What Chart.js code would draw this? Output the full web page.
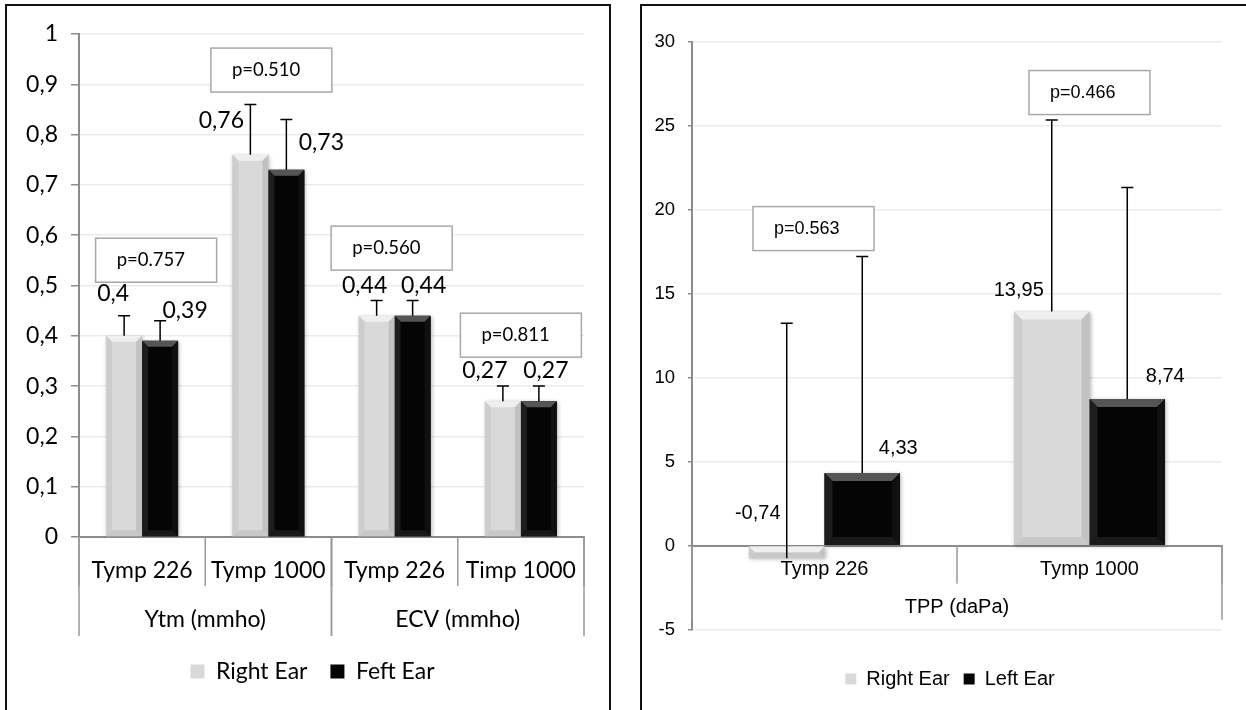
<!DOCTYPE html>
<html>
<head>
<meta charset="utf-8">
<script src="https://cdn.jsdelivr.net/npm/chart.js@4.4.1/dist/chart.umd.min.js"></script>
<style>
  html, body { margin: 0; padding: 0; background: #fff; width: 1246px; height: 710px; overflow: hidden; }
  .panel { position: absolute; top: 4px; border: 2px solid #111; background: #fff; }
  #leftPanel { left: 5px; width: 602px; height: 708px; }
  #rightPanel { left: 640px; width: 606px; height: 708px; }
  canvas { display: block; }
</style>
</head>
<body>
<div class="panel" id="leftPanel"><canvas id="leftChart" width="602" height="708"></canvas></div>
<div class="panel" id="rightPanel"><canvas id="rightChart" width="606" height="708"></canvas></div>
<script>
// Left panel: Ytm and ECV (mmho), right vs left ear
const leftCategories = ['Tymp 226', 'Tymp 1000', 'Tymp 226', 'Timp 1000'];
const leftGroups = ['Ytm (mmho)', 'ECV (mmho)'];
const leftGroupSizes = [2, 2];
const leftRightEar = [0.40, 0.76, 0.44, 0.27];
const leftLeftEar = [0.39, 0.73, 0.44, 0.27];
const leftRightSd = [0.04, 0.10, 0.03, 0.03];
const leftLeftSd = [0.04, 0.10, 0.03, 0.03];
const leftPValues = ['p=0.757', 'p=0.510', 'p=0.560', 'p=0.811'];
const leftLegend = ['Right Ear', 'Feft Ear'];

// Right panel: TPP (daPa)
const rightCategories = ['Tymp 226', 'Tymp 1000'];
const rightGroups = ['TPP (daPa)'];
const rightGroupSizes = [2];
const rightRightEar = [-0.74, 13.95];
const rightLeftEar = [4.33, 8.74];
const rightRightSd = [14.0, 11.4];
const rightLeftSd = [12.9, 12.6];
const rightPValues = ['p=0.563', 'p=0.466'];
const rightLegend = ['Right Ear', 'Left Ear'];

// hand-placed value label nudges (px from the bar end), [right ear][], [left ear][]
const leftLabelNudge = [
  [[-11, -42], [-29, -34], [-12, -30], [-18, -31]],
  [[25, -30], [35, -27], [11, -30], [7, -31]]
];
const rightLabelNudge = [
  [[-29, -45], [-33, -21]],
  [[36, -25], [38, -23]]
];
// p-value boxes: top edge in axis units + shift (px) from the category centre
const leftBoxTop = [0.594, 0.972, 0.618, 0.445];
const leftBoxShift = [14, 3, -3, 0];
const rightBoxTop = [20.2, 28.3];
const rightBoxShift = [-11, 0];

const LATO = 'Lato, "Open Sans", sans-serif';
const ARIAL = '"Liberation Sans", Arial, sans-serif';

const fmt = v => String(Math.round(v * 100) / 100).replace('.', ',');

const grayShades = { top: '#efefef', left: '#cdcdcd', right: '#c2c2c2', bottom: '#c8c8c8' };
const blackShades = { top: '#555555', left: '#1d1d1d', right: '#101010', bottom: '#1a1a1a' };

// Excel-style bevel drawn over each bar the library placed
function bevel(ctx, bar, shades, size) {
  const { x, y, base, width } = bar.getProps(['x', 'y', 'base', 'width'], true);
  const l = x - width / 2, r = x + width / 2;
  const t = Math.min(y, base), b = Math.max(y, base);
  const s = Math.min(size, (b - t) / 2, width / 2);
  const poly = (pts, c) => {
    ctx.fillStyle = c;
    ctx.beginPath();
    pts.forEach((p, k) => k ? ctx.lineTo(p[0], p[1]) : ctx.moveTo(p[0], p[1]));
    ctx.closePath();
    ctx.fill();
  };
  poly([[l, t], [r, t], [r - s, t + s], [l + s, t + s]], shades.top);
  poly([[l, b], [r, b], [r - s, b - s], [l + s, b - s]], shades.bottom);
  poly([[l, t], [l + s, t + s], [l + s, b - s], [l, b]], shades.left);
  poly([[r, t], [r - s, t + s], [r - s, b - s], [r, b]], shades.right);
}

function buildChart(id, s) {
  const decor = {
    id: 'decor',
    afterLayout(chart) {
      // legend sits a little right of the canvas centre in the original
      chart.legend.left += s.legendShift;
      chart.legend.right += s.legendShift;
    },
    beforeDatasetsDraw(chart) {
      const ctx = chart.ctx;
      ctx.save();
      ctx.shadowColor = 'rgba(0,0,0,0.3)';
      ctx.shadowBlur = 4;
      ctx.shadowOffsetX = 1;
      ctx.shadowOffsetY = 1;
    },
    afterDatasetsDraw(chart) {
      const ctx = chart.ctx, xs = chart.scales.x, ys = chart.scales.y;
      ctx.restore();
      ctx.save();
      chart.data.datasets.forEach((ds, d) => {
        chart.getDatasetMeta(d).data.forEach(bar => bevel(ctx, bar, d === 0 ? grayShades : blackShades, s.bevel));
      });
      // error bars (upper only) and value labels
      chart.data.datasets.forEach((ds, d) => {
        chart.getDatasetMeta(d).data.forEach((bar, i) => {
          const v = ds.data[i];
          const y0 = ys.getPixelForValue(v);
          const y1 = ys.getPixelForValue(v + s.sd[d][i]);
          ctx.strokeStyle = '#000';
          ctx.lineWidth = 1.5;
          ctx.beginPath();
          ctx.moveTo(bar.x, y0); ctx.lineTo(bar.x, y1);
          ctx.moveTo(bar.x - s.cap, y1); ctx.lineTo(bar.x + s.cap, y1);
          ctx.stroke();
          ctx.fillStyle = '#000';
          ctx.font = s.labelFont;
          ctx.textAlign = 'center';
          ctx.textBaseline = 'middle';
          const [dx, dy] = s.nudge[d][i];
          ctx.fillText(fmt(v), bar.x + dx, y0 + dy);
        });
      });
      // p-value boxes
      s.pValues.forEach((p, i) => {
        const left = xs.getPixelForValue(i) + s.boxShift[i] - s.boxW / 2;
        const top = ys.getPixelForValue(s.boxTop[i]);
        ctx.fillStyle = '#fff';
        ctx.fillRect(left, top, s.boxW, s.boxH);
        ctx.strokeStyle = '#a8a8a8';
        ctx.lineWidth = 1.5;
        ctx.strokeRect(left, top, s.boxW, s.boxH);
        ctx.fillStyle = '#000';
        ctx.font = s.boxFont;
        ctx.textAlign = 'left';
        ctx.textBaseline = 'middle';
        ctx.fillText(p, left + 21, top + s.boxH / 2);
      });
      ctx.restore();
    },
    afterDraw(chart) {
      // multi-level category axis: dividers + group labels
      const ctx = chart.ctx, xs = chart.scales.x, ys = chart.scales.y;
      const axisY = ys.getPixelForValue(0);
      const step = xs.getPixelForValue(1) - xs.getPixelForValue(0);
      const edge = i => xs.getPixelForValue(i) - step / 2;
      const vline = (x, len) => { ctx.beginPath(); ctx.moveTo(x, axisY); ctx.lineTo(x, axisY + len); ctx.stroke(); };
      ctx.save();
      ctx.strokeStyle = '#999';
      ctx.lineWidth = 1.5;
      for (let i = 0; i <= s.categories.length; i++) vline(edge(i), s.catDrop);
      ctx.fillStyle = '#000';
      ctx.font = s.groupFont;
      ctx.textAlign = 'center';
      ctx.textBaseline = 'middle';
      let start = 0;
      s.groups.forEach((g, k) => {
        const end = start + s.groupSizes[k];
        vline(edge(start), s.groupDrop);
        vline(edge(end), s.groupDrop);
        ctx.fillText(g, (edge(start) + edge(end)) / 2, axisY + s.groupY);
        start = end;
      });
      ctx.restore();
    }
  };

  return new Chart(document.getElementById(id), {
    type: 'bar',
    data: {
      labels: s.categories,
      datasets: [
        { label: s.legend[0], data: s.rightEar, backgroundColor: '#d9d9d9', borderWidth: 0 },
        { label: s.legend[1], data: s.leftEar, backgroundColor: '#050505', borderWidth: 0 }
      ]
    },
    options: {
      responsive: false,
      animation: false,
      datasets: { bar: { categoryPercentage: s.catPct, barPercentage: 1 } },
      layout: { padding: s.padding },
      scales: {
        x: {
          position: s.xPosition,
          grid: { display: false, drawTicks: false },
          border: { display: true, color: '#8c8c8c', width: 2 },
          ticks: { color: '#000', padding: s.xPad, font: { family: s.family, size: s.catSize } },
          afterFit: sc => { if (s.xHeight) sc.height = s.xHeight; }
        },
        y: {
          min: s.yMin,
          max: s.yMax,
          grid: { color: '#ebebeb', lineWidth: 1.5, tickLength: s.tickLen, tickColor: '#8c8c8c' },
          border: { color: '#8c8c8c', width: 2 },
          ticks: {
            stepSize: s.yStep,
            padding: s.yPad,
            color: '#000',
            font: { family: s.family, size: s.tickSize },
            callback: v => fmt(v)
          },
          afterFit: sc => { sc.width = s.yWidth; }
        }
      },
      plugins: {
        legend: {
          position: 'bottom',
          title: s.legendTitle,
          labels: {
            color: '#000',
            boxWidth: s.legendBox,
            boxHeight: s.legendBox,
            padding: s.legendPad,
            font: { family: s.family, size: s.legendSize }
          }
        },
        tooltip: { enabled: false }
      }
    },
    plugins: [decor]
  });
}

function draw() {
  buildChart('leftChart', {
    categories: leftCategories, groups: leftGroups, groupSizes: leftGroupSizes,
    rightEar: leftRightEar, leftEar: leftLeftEar, sd: [leftRightSd, leftLeftSd],
    pValues: leftPValues, legend: leftLegend,
    nudge: leftLabelNudge, boxTop: leftBoxTop, boxShift: leftBoxShift, boxW: 121, boxH: 44,
    family: LATO, labelFont: '23px ' + LATO, boxFont: '18.5px ' + LATO, groupFont: '23px ' + LATO,
    catSize: 23, tickSize: 23, legendSize: 23,
    catPct: 0.57, bevel: 6, cap: 6,
    padding: { top: 28, right: 25, bottom: 21, left: 0 },
    xPosition: 'bottom', xPad: 20, xHeight: 100,
    yMin: 0, yMax: 1, yStep: 0.1, yPad: 13, tickLen: 8, yWidth: 72,
    catDrop: 49, groupDrop: 99, groupY: 83,
    legendBox: 14, legendPad: 23, legendShift: 17, legendTitle: { display: false }
  });

  buildChart('rightChart', {
    categories: rightCategories, groups: rightGroups, groupSizes: rightGroupSizes,
    rightEar: rightRightEar, leftEar: rightLeftEar, sd: [rightRightSd, rightLeftSd],
    pValues: rightPValues, legend: rightLegend,
    nudge: rightLabelNudge, boxTop: rightBoxTop, boxShift: rightBoxShift, boxW: 121, boxH: 44,
    family: ARIAL, labelFont: '20px ' + ARIAL, boxFont: '18px ' + ARIAL, groupFont: '20px ' + ARIAL,
    catSize: 20, tickSize: 18.5, legendSize: 20,
    catPct: 0.57, bevel: 8, cap: 6,
    padding: { top: 36, right: 26, bottom: 15, left: 0 },
    xPosition: { y: 0 }, xPad: 12, xHeight: 0,
    yMin: -5, yMax: 30, yStep: 5, yPad: 13, tickLen: 4, yWidth: 50,
    catDrop: 38, groupDrop: 74, groupY: 62,
    legendBox: 11, legendPad: 14, legendShift: 18,
    legendTitle: { display: true, text: '', padding: 0, font: { size: 21 } }
  });
}

Promise.all([
  document.fonts.load('23px Lato'),
  document.fonts.load('20px "Liberation Sans"')
]).then(draw, draw);
</script>
</body>
</html>
